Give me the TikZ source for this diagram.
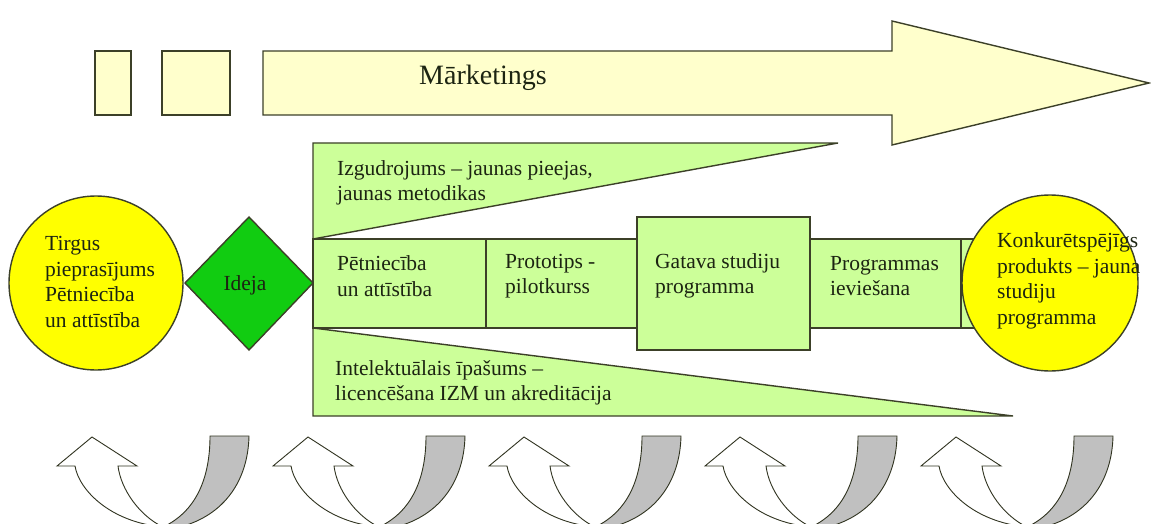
\documentclass[tikz,border=0pt]{standalone}
\usepackage{fontspec}
\setmainfont{Liberation Serif}
\usetikzlibrary{shapes.geometric}
\definecolor{paleyellow}{HTML}{FFFFCC}
\definecolor{palegreen}{HTML}{CCFF99}
\definecolor{ideagreen}{HTML}{11CC11}
\definecolor{sunyellow}{HTML}{FFFF00}
\definecolor{backgray}{HTML}{C0C0C0}
\definecolor{edgecol}{RGB}{60,64,40}
\definecolor{inkcol}{RGB}{28,36,18}
\begin{document}
\begin{tikzpicture}[x=1pt,y=-1pt,
  outl/.style={draw=edgecol,line width=1.4pt,line join=miter},
  thin/.style={draw=edgecol!80!black,line width=0.9pt},
  txt/.style={inner sep=0pt,anchor=west,align=left,text=inkcol,
              font=\fontsize{21.5}{25.5}\selectfont}]
\useasboundingbox (0,0) rectangle (1151,524);
\clip (0,0) rectangle (1151,524);

% marketing band
\draw[outl,fill=paleyellow] (95,51) rectangle (131,115);
\draw[outl,fill=paleyellow] (162,51) rectangle (230,115);
\draw[outl,fill=paleyellow] (263,51) -- (892,51) -- (892,21) -- (1149,83)
  -- (892,145) -- (892,115) -- (263,115) -- cycle;
\node[txt,font=\fontsize{28}{32}\selectfont] (mark) at (419,78) {Mārketings};

% upper and lower wedges
\draw[outl,fill=palegreen] (313,143) -- (838,143) -- (313,239) -- cycle;
\draw[outl,fill=palegreen] (313,328) -- (1013,416) -- (313,416) -- cycle;

% stage boxes
\draw[outl,fill=palegreen] (961,239) rectangle (1000,328);
\draw[outl,fill=palegreen] (313,239) rectangle (486,328);
\draw[outl,fill=palegreen] (486,239) rectangle (637,328);
\draw[outl,fill=palegreen] (810,239) rectangle (961,328);
\draw[outl,fill=palegreen] (637,217) rectangle (810,350);

% start, idea and result
\draw[outl,fill=sunyellow] (96,283) circle[radius=87pt];
\draw[outl,fill=ideagreen] (185,283) -- (249,217) -- (313,283) -- (249,350) -- cycle;
\draw[outl,fill=sunyellow] (1050,283) circle[radius=88pt];

% labels
\node[txt] (market) at (45,282) {Tirgus\\pieprasījums\\Pētniecība\\un attīstība};
\node[txt,anchor=center] (idea) at (245,285) {Ideja};
\node[txt] (invent) at (337,183) {Izgudrojums – jaunas pieejas,\\jaunas metodikas};
\node[txt] (research) at (337,276) {Pētniecība\\un attīstība};
\node[txt] (proto) at (505,276) {Prototips -\\pilotkurss};
\node[txt] (ready) at (655,276) {Gatava studiju\\programma};
\node[txt] (deploy) at (830,276) {Programmas\\ieviešana};
\node[txt] (ip) at (335,383) {Intelektuālais īpašums –\\licencēšana IZM un akreditācija};
\node[txt] (product) at (997,281) {Konkurētspējīgs\\produkts – jauna\\studiju\\programma};

% feedback arrows along the bottom
\foreach \i in {0,...,4}{
  \begin{scope}[xshift=216*\i]
    \draw[thin,fill=backgray] (210,436) -- (249,436)
      .. controls (248,480) and (225,515) .. (180,527) -- (163,527)
      .. controls (195,512) and (210,480) .. (210,436) -- cycle;
    \draw[thin,fill=white] (92,437) -- (57,466) -- (75,466)
      .. controls (79,490) and (110,522) .. (163,527)
      .. controls (140,516) and (121,490) .. (118,466)
      -- (137,466) -- cycle;
  \end{scope}
}
\end{tikzpicture}
\end{document}
